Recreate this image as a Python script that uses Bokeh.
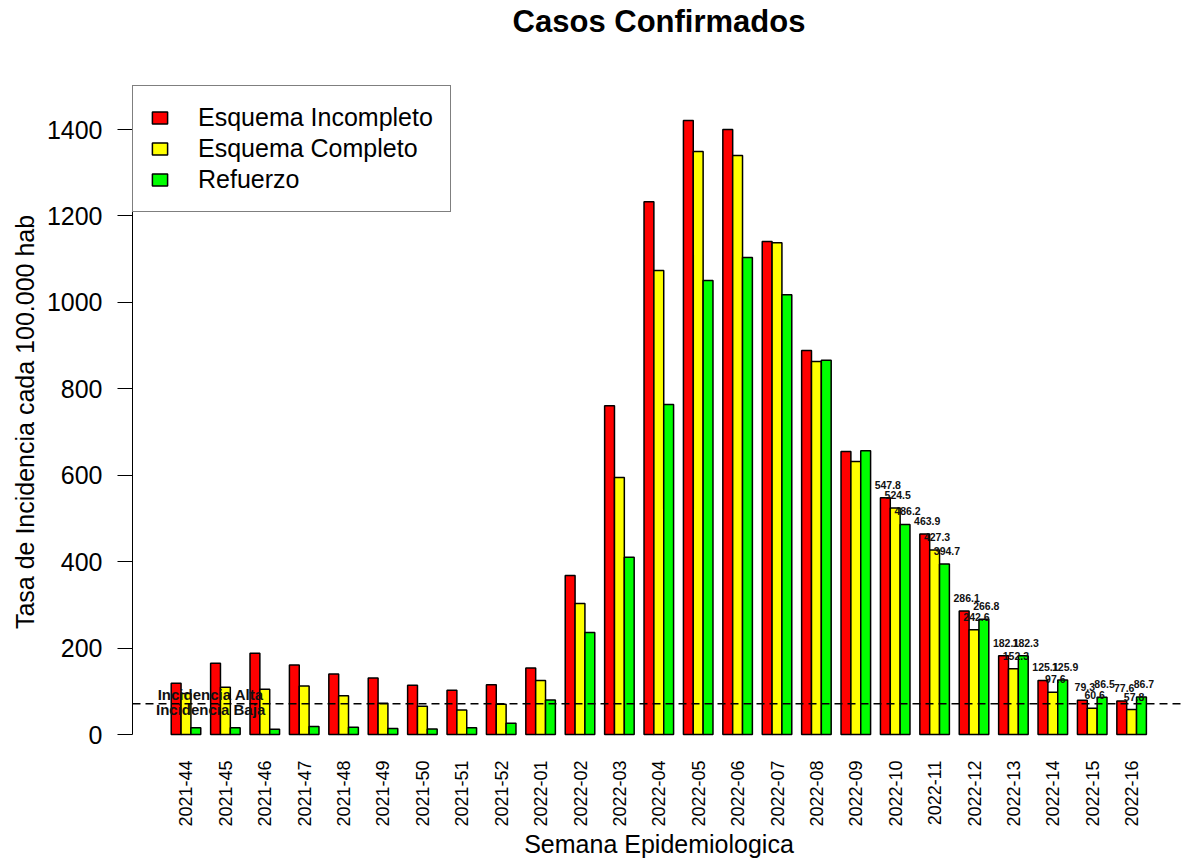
import math
import numpy as np
from bokeh.plotting import figure
from bokeh.models import (Range1d, FixedTicker, Span, Legend, LegendItem,
                          ColumnDataSource, Title)
from bokeh.core.properties import value
from bokeh.embed import file_html
from bokeh.resources import INLINE

# ---------------- data ----------------
semanas = ["2021-44", "2021-45", "2021-46", "2021-47", "2021-48", "2021-49",
           "2021-50", "2021-51", "2021-52", "2022-01", "2022-02", "2022-03",
           "2022-04", "2022-05", "2022-06", "2022-07", "2022-08", "2022-09",
           "2022-10", "2022-11", "2022-12", "2022-13", "2022-14", "2022-15",
           "2022-16"]
esquema_incompleto = [118.8, 165.0, 188.0, 161.0, 140.0, 131.0, 114.0, 102.6,
                      115.0, 154.0, 368.0, 761.0, 1233.0, 1421.0, 1400.0,
                      1141.0, 889.0, 655.0, 547.8, 463.9, 286.1, 182.1, 125.1,
                      79.3, 77.6]
esquema_completo = [95.0, 109.5, 105.0, 112.0, 89.5, 72.5, 65.5, 57.0, 70.0,
                    125.0, 303.0, 595.0, 1074.0, 1349.0, 1340.0, 1138.0, 863.0,
                    632.0, 524.5, 427.3, 242.6, 152.3, 97.6, 60.6, 57.8]
refuerzo = [15.4, 15.4, 12.3, 18.5, 17.0, 14.0, 13.0, 15.4, 26.0, 80.0, 236.0,
            410.0, 764.0, 1051.0, 1104.0, 1018.0, 866.0, 657.0, 486.2, 394.7,
            266.8, 182.3, 125.9, 86.5, 86.7]
series_nombres = ["Esquema Incompleto", "Esquema Completo", "Refuerzo"]
series_colores = ["#FF0000", "#FFFF00", "#00FF00"]
umbral = 71.0
primera_etiquetada = 18   # weeks from 2022-10 on carry value labels
y_ticks = [0, 200, 400, 600, 800, 1000, 1200, 1400]

FONT = "Liberation Sans"

# ---------------- positions (R barplot, beside=TRUE, space=c(0,1)) -------
n = len(semanas)
idx = np.arange(n)
centros = [4 * idx + 1.5, 4 * idx + 2.5, 4 * idx + 3.5]
valores = [esquema_incompleto, esquema_completo, refuerzo]

p = figure(width=1186, height=863, output_backend="svg", toolbar_location=None,
           x_range=Range1d(-2.93, 103.97), y_range=Range1d(-55.5, 1502),
           min_border_left=132, min_border_right=1, min_border_top=85,
           min_border_bottom=105)

p.title.text = "Casos Confirmados"
p.title.align = "center"
p.title.vertical_align = "top"
p.title.text_font = FONT
p.title.text_font_size = "31px"
p.title.text_font_style = "bold"
p.title.text_color = "black"
p.title.standoff = 4

# empty spacer between the title and the plotting area
p.add_layout(Title(text=" ", text_font_size="1px", standoff=40), "above")

p.outline_line_color = None
p.xgrid.visible = False
p.ygrid.visible = False
p.background_fill_color = "white"
p.border_fill_color = "white"

renderers = []
for xs, vals, col in zip(centros, valores, series_colores):
    src = ColumnDataSource(dict(x=xs, top=vals))
    r = p.vbar(x="x", top="top", bottom=0, width=1.0, source=src,
               fill_color=col, line_color="black", line_width=1.5)
    renderers.append(r)

# threshold line and labels
p.add_layout(Span(location=umbral, dimension="width", line_color="black",
                  line_dash="8 5", line_width=1.5))
p.text(x=[5], y=[umbral], text=["Incidencia Alta"], text_font=value(FONT),
       text_font_style="bold", text_font_size="15px", text_align="center",
       text_baseline="alphabetic", y_offset=-9, text_color="#111111")
p.text(x=[5], y=[umbral], text=["Incidencia Baja"], text_font=value(FONT),
       text_font_style="bold", text_font_size="15px", text_align="center",
       text_baseline="alphabetic", y_offset=6, text_color="#111111")

# value labels on the last weeks
lx, ly, lt = [], [], []
for xs, vals in zip(centros, valores):
    for i in range(primera_etiquetada, n):
        lx.append(xs[i] + 0.25)
        ly.append(vals[i])
        lt.append(f"{vals[i]:.1f}")
p.text(x="x", y="y", text="t", source=ColumnDataSource(dict(x=lx, y=ly, t=lt)),
       text_font=value(FONT), text_font_style="bold", text_font_size="10.5px",
       text_align="center", text_baseline="middle", y_offset=-13,
       text_color="#111111")

# legend
legend = Legend(items=[LegendItem(label=nm, renderers=[r])
                       for nm, r in zip(series_nombres, renderers)],
                location="top_left", margin=0, padding=17, spacing=2,
                glyph_width=19, glyph_height=15, label_standoff=29,
                label_text_font=FONT, label_text_font_size="25px",
                label_text_color="black", border_line_color="black",
                border_line_width=1.5, background_fill_color="white",
                background_fill_alpha=1.0)
p.add_layout(legend)

# y axis
yax = p.yaxis[0]
yax.ticker = FixedTicker(ticks=y_ticks)
yax.bounds = (0, 1400)
yax.major_tick_out = 15
yax.major_tick_in = 0
yax.minor_tick_out = 0
yax.minor_tick_in = 0
yax.major_label_standoff = 15
yax.major_label_text_font = FONT
yax.major_label_text_font_size = "25px"
yax.major_label_text_color = "black"
yax.axis_line_color = "black"
yax.major_tick_line_color = "black"
yax.axis_label = "Tasa de Incidencia cada 100.000 hab"
yax.axis_label_text_font = FONT
yax.axis_label_text_font_size = "25px"
yax.axis_label_text_font_style = "normal"
yax.axis_label_text_color = "black"
yax.axis_label_standoff = 5

# x axis
xax = p.xaxis[0]
tick_pos = [float(v) for v in centros[1]]
xax.ticker = FixedTicker(ticks=tick_pos)
xax.major_label_overrides = {t: s for t, s in zip(tick_pos, semanas)}
xax.major_label_orientation = math.pi / 2
xax.axis_line_color = None
xax.major_tick_line_color = None
xax.minor_tick_line_color = None
xax.major_tick_out = 0
xax.major_tick_in = 0
xax.minor_tick_out = 0
xax.minor_tick_in = 0
xax.major_label_standoff = 2
xax.major_label_text_font = FONT
xax.major_label_text_font_size = "18px"
xax.major_label_text_color = "black"
xax.axis_label = "Semana Epidemiologica"
xax.axis_label_text_font = FONT
xax.axis_label_text_font_size = "25px"
xax.axis_label_text_font_style = "normal"
xax.axis_label_text_color = "black"
xax.axis_label_standoff = 0

open("out.html", "w").write(file_html(p, INLINE))
